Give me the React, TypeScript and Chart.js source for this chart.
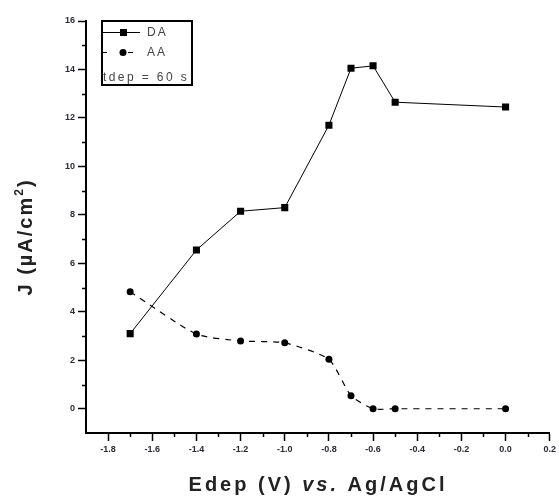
import React, { useEffect, useRef } from 'react';
import { Chart, registerables } from 'chart.js';

Chart.register(...registerables);

// ---- data ----
const E_DEP = [-1.7, -1.4, -1.2, -1.0, -0.8, -0.7, -0.6, -0.5, 0.0];
const DA = [3.1, 6.55, 8.15, 8.3, 11.7, 14.05, 14.15, 12.65, 12.45];
const AA = [4.83, 3.08, 2.8, 2.72, 2.04, 0.54, 0.0, 0.0, 0.0];
const X_TICKS = [-1.8, -1.6, -1.4, -1.2, -1.0, -0.8, -0.6, -0.4, -0.2, 0.0, 0.2];
const Y_TICKS = [0, 2, 4, 6, 8, 10, 12, 14, 16];
const SERIES_NAMES = ['DA', 'AA'];
const NOTE = 'tdep = 60 s';
const X_TITLE = ['Edep (V) ', 'vs.', ' Ag/AgCl'];
const Y_TITLE = ['J (µA/cm', '2', ')'];

const FONT = '"Liberation Sans", Arial, sans-serif';

const decorPlugin = {
  id: 'decor',
  afterDraw(chart: any) {
    const ctx: CanvasRenderingContext2D = chart.ctx;
    const xs = chart.scales.x;
    const ys = chart.scales.y;
    const area = chart.chartArea;
    ctx.save();
    // minor ticks
    ctx.strokeStyle = '#000';
    ctx.lineWidth = 1.5;
    for (let i = 0; i < X_TICKS.length - 1; i++) {
      const v = (X_TICKS[i] + X_TICKS[i + 1]) / 2;
      const px = Math.round(xs.getPixelForValue(v)) + 0.5;
      ctx.beginPath();
      ctx.moveTo(px, area.bottom);
      ctx.lineTo(px, area.bottom + 4);
      ctx.stroke();
    }
    for (let i = 0; i < Y_TICKS.length - 1; i++) {
      const v = (Y_TICKS[i] + Y_TICKS[i + 1]) / 2;
      const py = Math.round(ys.getPixelForValue(v)) + 0.5;
      ctx.beginPath();
      ctx.moveTo(area.left, py);
      ctx.lineTo(area.left - 4, py);
      ctx.stroke();
    }

    // legend box
    const bx = 102, by = 21, bw = 90, bh = 64;
    ctx.lineWidth = 2;
    ctx.strokeStyle = '#000';
    ctx.strokeRect(bx, by, bw, bh);
    // DA row
    const r1 = 32;
    ctx.lineWidth = 1;
    ctx.beginPath();
    ctx.moveTo(bx, r1 + 0.5);
    ctx.lineTo(bx + 38, r1 + 0.5);
    ctx.stroke();
    ctx.fillStyle = '#000';
    ctx.fillRect(bx + 18, r1 - 3, 7, 7);
    // AA row
    const r2 = 52;
    ctx.beginPath();
    ctx.moveTo(bx, r2 + 0.5);
    ctx.lineTo(bx + 5, r2 + 0.5);
    ctx.moveTo(bx + 26, r2 + 0.5);
    ctx.lineTo(bx + 31, r2 + 0.5);
    ctx.stroke();
    ctx.beginPath();
    ctx.arc(bx + 21, r2 + 0.5, 3.5, 0, Math.PI * 2);
    ctx.fill();
    ctx.fillStyle = '#444';
    ctx.font = `12px ${FONT}`;
    (ctx as any).letterSpacing = '2px';
    ctx.textBaseline = 'middle';
    ctx.textAlign = 'left';
    ctx.fillText(SERIES_NAMES[0], bx + 45, r1 + 1);
    ctx.fillText(SERIES_NAMES[1], bx + 45, r2 + 1);
    (ctx as any).letterSpacing = '2.4px';
    ctx.fillText(NOTE, bx + 1, 78);

    // x title
    ctx.fillStyle = '#222';
    ctx.textBaseline = 'alphabetic';
    (ctx as any).letterSpacing = '3px';
    const fonts = [`bold 20px ${FONT}`, `italic bold 20px ${FONT}`, `bold 20px ${FONT}`];
    let total = 0;
    const widths = X_TITLE.map((t, i) => {
      ctx.font = fonts[i];
      const w = ctx.measureText(t).width;
      total += w;
      return w;
    });
    let x = 318 - total / 2;
    X_TITLE.forEach((t, i) => {
      ctx.font = fonts[i];
      ctx.fillText(t, x, 491);
      x += widths[i];
    });

    // y title
    (ctx as any).letterSpacing = '2px';
    ctx.translate(32, 237);
    ctx.rotate(-Math.PI / 2);
    const yf = [`bold 20px ${FONT}`, `bold 12px ${FONT}`, `bold 20px ${FONT}`];
    const yoff = [0, -9, 0];
    let yt = 0;
    const yw = Y_TITLE.map((t, i) => {
      ctx.font = yf[i];
      const w = ctx.measureText(t).width;
      yt += w;
      return w;
    });
    let yx = -yt / 2;
    Y_TITLE.forEach((t, i) => {
      ctx.font = yf[i];
      ctx.fillText(t, yx, yoff[i]);
      yx += yw[i];
    });
    ctx.restore();
  },
};

export default function App() {
  const ref = useRef<HTMLCanvasElement | null>(null);
  useEffect(() => {
    if (!ref.current) return;
    const chart = new Chart(ref.current, {
      type: 'line',
      data: {
        datasets: [
          {
            label: SERIES_NAMES[0],
            data: E_DEP.map((x, i) => ({ x, y: DA[i] })),
            borderColor: '#000',
            backgroundColor: '#000',
            borderWidth: 1,
            pointStyle: 'rect',
            pointRadius: 5,
            pointBorderWidth: 0,
            tension: 0,
          },
          {
            label: SERIES_NAMES[1],
            data: E_DEP.map((x, i) => ({ x, y: AA[i] })),
            borderColor: '#000',
            backgroundColor: '#000',
            borderWidth: 1.2,
            borderDash: [6, 6],
            pointStyle: 'circle',
            pointRadius: 3.5,
            pointBorderWidth: 0,
            tension: 0.2,
          },
        ],
      },
      options: {
        responsive: false,
        animation: false,
        layout: { padding: { top: 21, right: 9, left: 0, bottom: 0 } },
        plugins: { legend: { display: false }, tooltip: { enabled: false }, title: { display: false } },
        scales: {
          x: {
            type: 'linear',
            min: -1.9,
            max: 0.2,
            afterBuildTicks: (s: any) => {
              s.ticks = X_TICKS.map((v) => ({ value: v }));
            },
            afterFit: (s: any) => {
              s.height = 64;
            },
            ticks: {
              autoSkip: false,
              maxRotation: 0,
              padding: 3,
              color: '#2a2a33',
              font: { family: FONT, size: 9, weight: 'bold' },
              callback: (v: any) => Number(v).toFixed(1),
            },
            grid: { drawOnChartArea: false, tickLength: 8, tickWidth: 1.5, tickColor: '#000', color: '#000' },
            border: { display: true, width: 2, color: '#000' },
          },
          y: {
            type: 'linear',
            min: -1,
            max: 16,
            afterBuildTicks: (s: any) => {
              s.ticks = Y_TICKS.map((v) => ({ value: v }));
            },
            afterFit: (s: any) => {
              s.width = 86;
            },
            ticks: {
              autoSkip: false,
              padding: 3,
              color: '#2a2a33',
              font: { family: FONT, size: 9, weight: 'bold' },
              callback: (v: any) => String(v),
            },
            grid: { drawOnChartArea: false, tickLength: 8, tickWidth: 1.5, tickColor: '#000', color: '#000' },
            border: { display: true, width: 2, color: '#000' },
          },
        },
      },
      plugins: [decorPlugin],
    } as any);
    return () => chart.destroy();
  }, []);
  return (
    <div style={{ position: 'absolute', left: 0, top: 0, width: 559, height: 497, background: '#fff' }}>
      <canvas ref={ref} width={559} height={497} style={{ display: 'block' }} />
    </div>
  );
}
